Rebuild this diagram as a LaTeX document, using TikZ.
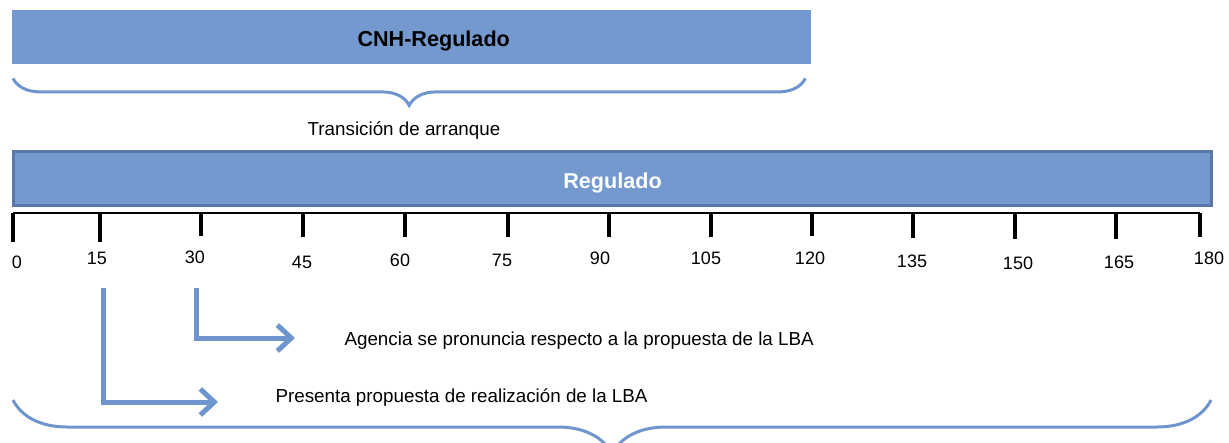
\documentclass[tikz,border=0pt]{standalone}
\usepackage{fontspec}
\setmainfont{Liberation Sans}
\usetikzlibrary{arrows.meta, decorations.pathreplacing, calc}

\definecolor{barblue}{RGB}{116,153,206}
\definecolor{barline}{RGB}{88,120,166}
\definecolor{curlblue}{RGB}{110,149,205}

\tikzset{
  phase/.style={fill=barblue, inner sep=0pt},
  phasetext/.style={inner sep=0pt, text height=15.5pt, text depth=0pt,
    font=\bfseries\fontsize{21.6}{26}\selectfont},
  curl/.style={draw=curlblue, line width=3pt, decorate,
    decoration={brace, mirror, amplitude=#1}},
  daytick/.style={line width=4pt},
  daynum/.style={font=\fontsize{18}{22}\selectfont},
  note/.style={font=\fontsize{18.8}{22}\selectfont},
  elbow/.style={draw=curlblue, line width=5pt,
    -{Straight Barb[length=14pt, width=26pt]}}
}

\begin{document}
\begin{tikzpicture}[x=1pt, y=-1pt]
  \useasboundingbox (0,0) rectangle (1229,442);

  \node (cnh) [phase, minimum width=799pt, minimum height=54pt, anchor=north west] at (12,10) {};
  \node (cnhlbl) [phasetext] at ($(cnh.center)+(22,2)$) {CNH-Regulado};
  \draw[curl=27pt] ($(cnh.south west)+(1,14)$) -- ($(cnh.south east)+(-6,14)$);
  \node (trans) [note] at (404,131) {Transición de arranque};

  \node (reg) [phase, draw=barline, line width=3pt, minimum width=1198pt, minimum height=54pt] at (612.5,178.5) {};
  \node (reglbl) [phasetext, text=white] at ($(reg.center)+(0,2)$) {Regulado};

  % eje de dias
  \draw[line width=1.2pt] (13,213) -- (1200,213);
  \foreach \d/\px/\lx/\ly/\len in {0/13/17/262/242, 15/100/97/258/242, 30/201/195/257/236,
      45/303/302/262/237, 60/405/400/260/237, 75/508/502/260/237, 90/609/600/258/237,
      105/711/706/258/237, 120/812/810/258/236, 135/913/912/261/238, 150/1015/1018/263/239,
      165/1116/1119/262/239, 180/1200/1209/258/237} {
    \coordinate (t\d) at (\px,213);
    \draw[daytick] (t\d) -- (\px,\len);
    \node (n\d) [daynum] at (\lx,\ly) {\d};
  }

  \coordinate (s30) at (196,288);
  \coordinate (e30) at (295,338);
  \coordinate (s15) at (103,288);
  \coordinate (e15) at (218,402);
  \draw[elbow] (s30) |- (e30);
  \draw[elbow] (s15) |- (e15);
  \node (agencia) [note, anchor=west] at (341,341) {Agencia se pronuncia respecto a la propuesta de la LBA};
  \node (presenta) [note, anchor=west] at (272,398) {Presenta propuesta de realización de la LBA};

  \draw[curl=54pt] (13,400) -- (1211,400);
\end{tikzpicture}
\end{document}
